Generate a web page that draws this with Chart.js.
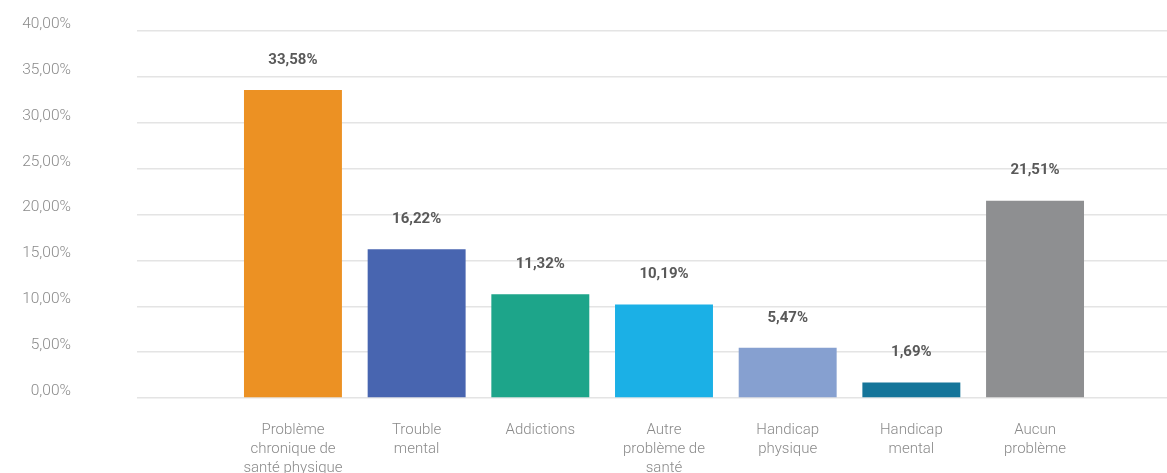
<!DOCTYPE html>
<html lang="fr">
<head>
<meta charset="utf-8">
<title>Problèmes de santé</title>
<script src="https://cdn.jsdelivr.net/npm/chart.js@4/dist/chart.umd.min.js"></script>
<style>
  html, body { margin: 0; padding: 0; background: #fff; }
  #wrap { width: 1167px; height: 473px; position: relative; }
</style>
</head>
<body>
<div id="wrap"><canvas id="chart"></canvas></div>
<script>
const categories = [
  ['Problème', 'chronique de', 'santé physique'],
  ['Trouble', 'mental'],
  ['Addictions'],
  ['Autre', 'problème de', 'santé'],
  ['Handicap', 'physique'],
  ['Handicap', 'mental'],
  ['Aucun', 'problème']
];
const values = [33.58, 16.22, 11.32, 10.19, 5.47, 1.69, 21.51];
const barColors = ['#EC9123', '#4865B0', '#1DA58A', '#1BB0E6', '#86A0D0', '#15759A', '#8E8F91'];
const yTicks = [0, 5, 10, 15, 20, 25, 30, 35, 40];

const frPct = v => v.toFixed(2).replace('.', ',') + '%';

// value labels above each bar
const valueLabels = {
  id: 'valueLabels',
  afterDatasetsDraw(chart) {
    const { ctx } = chart;
    const meta = chart.getDatasetMeta(0);
    ctx.save();
    ctx.font = 'bold 15px Roboto';
    ctx.fillStyle = '#595959';
    ctx.textAlign = 'center';
    ctx.textBaseline = 'middle';
    meta.data.forEach((bar, i) => {
      ctx.fillText(frPct(values[i]), bar.x, bar.y - 30);
    });
    ctx.restore();
  }
};

new Chart(document.getElementById('chart'), {
  type: 'bar',
  data: {
    datasets: [{
      data: values.map((v, i) => ({ x: i, y: v })),
      backgroundColor: barColors,
      borderWidth: 0,
      barPercentage: 1,
      categoryPercentage: 0.792
    }]
  },
  options: {
    responsive: true,
    maintainAspectRatio: false,
    animation: false,
    layout: { padding: { top: 31, right: 0, bottom: 0, left: 0 } },
    plugins: {
      legend: { display: false },
      tooltip: { enabled: false }
    },
    scales: {
      x: {
        type: 'linear',
        offset: false,
        min: -1.261,
        max: 7.067,
        grid: { display: false },
        border: { display: false },
        afterBuildTicks(scale) {
          scale.ticks = categories.map((_, i) => ({ value: i }));
        },
        afterFit(scale) { scale.height = 75; },
        ticks: {
          autoSkip: false,
          maxRotation: 0,
          padding: 15,
          color: '#8a8a8a',
          font: { family: 'Roboto', size: 15, weight: '300', lineHeight: 1.27 },
          callback: value => categories[value] || ''
        }
      },
      y: {
        min: 0,
        max: 40,
        afterBuildTicks(scale) {
          scale.ticks = yTicks.map(v => ({ value: v }));
        },
        afterFit(scale) {
          // fixed axis width; the large label gap should not push the plot down
          scale.width = 137;
          scale.paddingTop = 0;
          scale.paddingBottom = 0;
        },
        grid: { color: '#e4e4e4', lineWidth: 1.5, drawTicks: false },
        border: { display: false },
        ticks: {
          padding: 66,
          labelOffset: -7,
          color: '#8a8a8a',
          font: { family: 'Roboto', size: 15.5, weight: '300' },
          callback: value => frPct(value)
        }
      }
    }
  },
  plugins: [valueLabels]
});
</script>
</body>
</html>
